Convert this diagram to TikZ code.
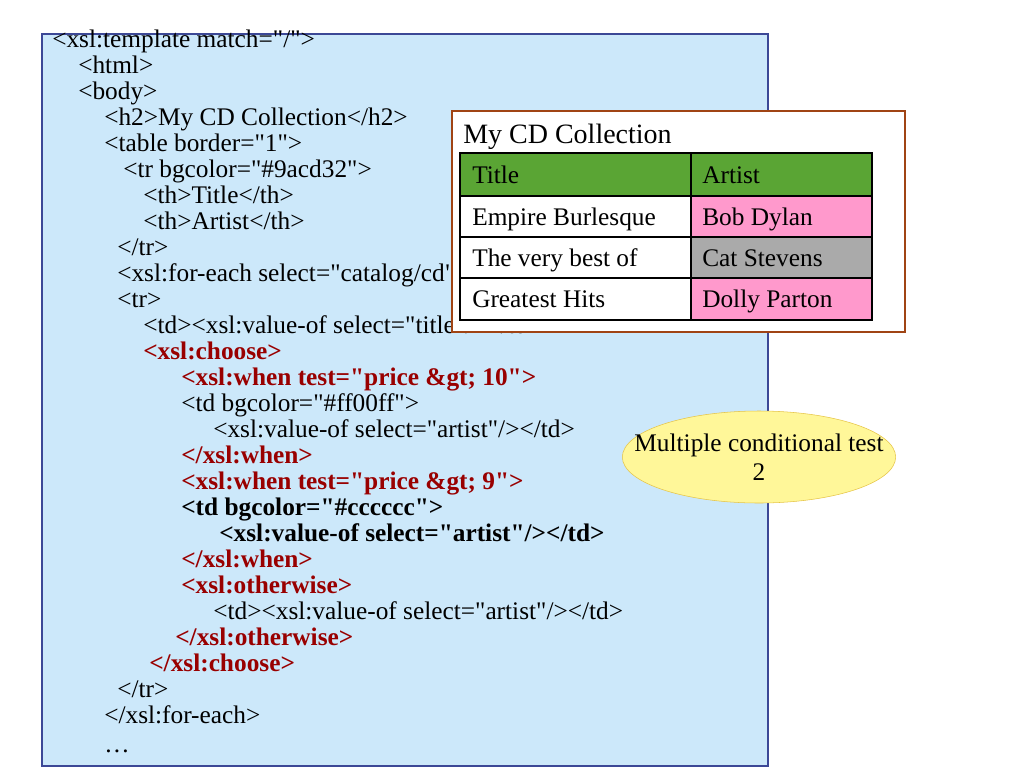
\documentclass[tikz,border=0pt]{standalone}
\usepackage{fontspec}
\newfontfamily\xslfont{Liberation Serif}
\usetikzlibrary{shapes.geometric}
\definecolor{boxblue}{RGB}{204,232,250}
\definecolor{boxline}{RGB}{60,72,150}
\definecolor{xslred}{RGB}{153,0,0}
\definecolor{framebrown}{RGB}{160,68,20}
\definecolor{hdrgreen}{RGB}{90,165,52}
\definecolor{artpink}{RGB}{255,153,204}
\definecolor{artgray}{RGB}{170,170,170}
\definecolor{notefill}{RGB}{255,247,153}
\definecolor{noteline}{RGB}{230,196,70}

\begin{document}
\begin{tikzpicture}[x=0.75pt, y=-0.75pt,
  code/.style={anchor=base west, inner sep=0, font=\fontsize{19}{22}\selectfont\xslfont},
  tag/.style={code, text=xslred, font=\fontsize{19}{22}\selectfont\xslfont\bfseries},
  boldcode/.style={code, font=\fontsize{19}{22}\selectfont\xslfont\bfseries},
  note/.style={draw=noteline, fill=notefill, ellipse, inner sep=0,
    minimum width=205pt, minimum height=69pt},
  notetext/.style={inner sep=0, align=center, font=\fontsize{19}{22}\selectfont\xslfont}]
\useasboundingbox (0,0) rectangle (1024,768);
% code box
\draw[boxline, fill=boxblue, line width=1.1pt] (42,34) rectangle (768,766);
\node[code] (c1) at (52,47) {<xsl:template match="/">};
\node[code] (c2) at (78,73) {<html>};
\node[code] (c3) at (78,99) {<body>};
\node[code] (c4) at (104,125) {<h2>My CD Collection</h2>};
\node[code] (c5) at (104,151) {<table border="1">};
\node[code] (c6) at (123,177) {<tr bgcolor="\#9acd32">};
\node[code] (c7) at (143,203) {<th>Title</th>};
\node[code] (c8) at (143,229) {<th>Artist</th>};
\node[code] (c9) at (117,255) {</tr>};
\node[code] (c10) at (117,281) {<xsl:for-each select="catalog/cd">};
\node[code] (c11) at (117,307) {<tr>};
\node[code] (c12) at (143,333) {<td><xsl:value-of select="title"/></td>};
\node[tag] (c13) at (143,359) {<xsl:choose>};
\node[tag] (c14) at (181,385) {<xsl:when test="price \&gt; 10">};
\node[code] (c15) at (181,411) {<td bgcolor="\#ff00ff">};
\node[code] (c16) at (213,437) {<xsl:value-of select="artist"/></td>};
\node[tag] (c17) at (181,463) {</xsl:when>};
\node[tag] (c18) at (181,489) {<xsl:when test="price \&gt; 9">};
\node[boldcode] (c19) at (181,515) {<td bgcolor="\#cccccc">};
\node[boldcode] (c20) at (219,541) {<xsl:value-of select="artist"/></td>};
\node[tag] (c21) at (181,567) {</xsl:when>};
\node[tag] (c22) at (181,593) {<xsl:otherwise>};
\node[code] (c23) at (213,619) {<td><xsl:value-of select="artist"/></td>};
\node[tag] (c24) at (175,645) {</xsl:otherwise>};
\node[tag] (c25) at (149,671) {</xsl:choose>};
\node[code] (c26) at (117,697) {</tr>};
\node[code] (c27) at (104,723) {</xsl:for-each>};
\node[code] (c28) at (104,752) {…};
% rendered table
\draw[framebrown, fill=white, line width=2.2pt] (452,111) rectangle (905,332);
\node[code, font=\fontsize{21}{24}\selectfont\xslfont] (title) at (463,143) {My CD Collection};
\fill[hdrgreen] (460,153) rectangle (872,196);
\fill[artpink] (691,196) rectangle (872,237);
\fill[artgray] (691,237) rectangle (872,278);
\fill[artpink] (691,278) rectangle (872,320);
\draw[line width=1pt] (691,153) -- (691,320);
\draw[line width=1pt] (460,196) -- (872,196);
\draw[line width=1pt] (460,237) -- (872,237);
\draw[line width=1pt] (460,278) -- (872,278);
\draw[line width=2.2pt] (460,153) rectangle (872,320);
\node[code] (t1) at (472,183) {Title};
\node[code] (a1) at (702,183) {Artist};
\node[code] (t2) at (472,225) {Empire Burlesque};
\node[code] (a2) at (702,225) {Bob Dylan};
\node[code] (t3) at (472,266) {The very best of};
\node[code] (a3) at (702,266) {Cat Stevens};
\node[code] (t4) at (472,307) {Greatest Hits};
\node[code] (a4) at (702,307) {Dolly Parton};
% callout
\node[note] (cond) at (759,457) {};
\node[notetext] (condtext) at (cond.center) {Multiple conditional test\\2};
\end{tikzpicture}
\end{document}
